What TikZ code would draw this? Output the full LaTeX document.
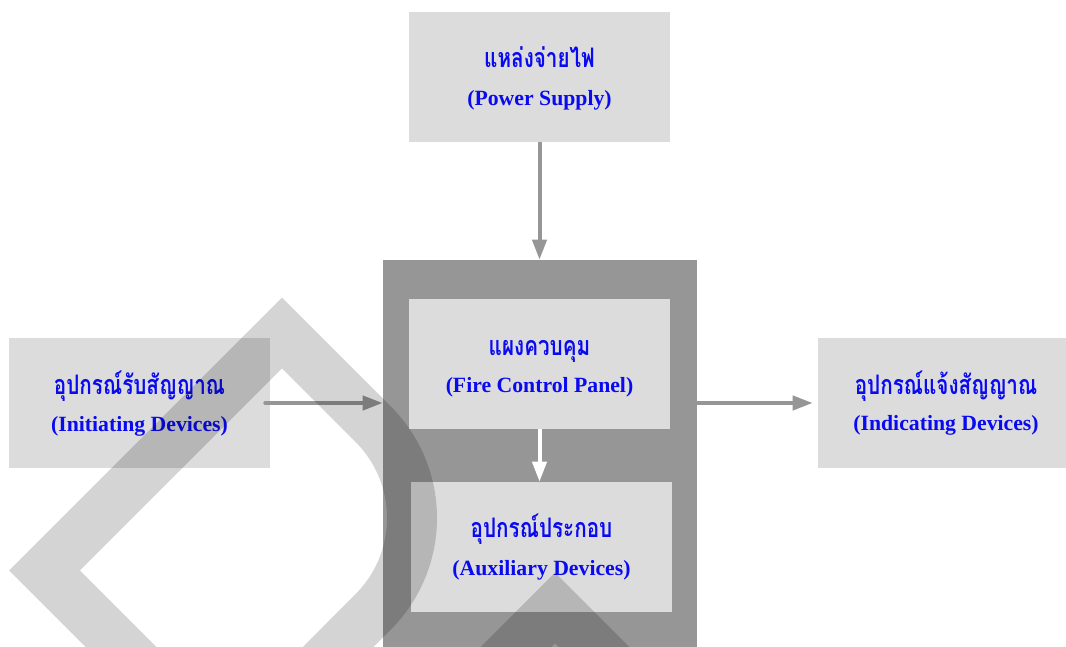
\documentclass[tikz,border=0pt]{standalone}
\usepackage{fontspec}
\setmainfont{Liberation Serif}
\newfontfamily\thaifont[Script=Thai]{Loma}
\usetikzlibrary{arrows.meta}
\definecolor{boxgray}{RGB}{220,220,220}
\definecolor{panelgray}{RGB}{150,150,150}
\definecolor{arrowgray}{RGB}{150,150,150}
\definecolor{labelblue}{RGB}{10,10,240}
% Thai labels are set a little taller than the font's natural shape
\newcommand{\tallthai}[1]{\scalebox{1}[1.3]{#1}}

\begin{document}
\begin{tikzpicture}[x=0.75pt,y=-0.75pt,
  box/.style={fill=boxgray, draw=none, minimum width=195.75pt,
    minimum height=97.5pt, inner sep=0pt},
  panelbox/.style={fill=panelgray, draw=none, minimum width=235.5pt,
    minimum height=300pt, inner sep=0pt},
  thtext/.style={font=\thaifont\bfseries\fontsize{15.5}{18}\selectfont,
    text=labelblue, anchor=base, inner sep=0pt},
  entext/.style={font=\bfseries\fontsize{16.3}{19}\selectfont,
    text=labelblue, anchor=base, inner sep=0pt},
  flow/.style={draw=arrowgray, line width=3pt,
    -{Triangle[width=10.5pt,length=15pt]}},
  whiteflow/.style={flow, draw=white},
  wmstroke/.style={draw=black, draw opacity=0.17, line width=37.5pt,
    line join=miter}
]
\useasboundingbox (0,0) rectangle (1066,646);
\clip (0,0) rectangle (1066,646);

% boxes
\node[panelbox] (ctrl) at (540,460) {};
\node[box] (ps)   at (539.5,77)  {};
\node[box] (fcp)  at (539.5,364) {};
\node[box] (aux)  at (541.5,547) {};
\node[box] (init) at (139.5,403) {};
\node[box] (ind)  at (948.5,403) {};

% labels
\node[thtext] (ps-th)   at (539.5,67)  {\tallthai{แหล่งจ่ายไฟ}};
\node[entext] (ps-en)   at (539.5,105) {(Power Supply)};
\node[thtext] (fcp-th)  at (539.5,355) {\tallthai{แผงควบคุม}};
\node[entext] (fcp-en)  at (539.5,392) {(Fire Control Panel)};
\node[thtext] (aux-th)  at (541.5,537) {\tallthai{อุปกรณ์ประกอบ}};
\node[entext] (aux-en)  at (541.5,575) {(Auxiliary Devices)};
\node[thtext] (init-th) at (139.5,394) {\tallthai{อุปกรณ์รับสัญญาณ}};
\node[entext] (init-en) at (139.5,431) {(Initiating Devices)};
\node[thtext] (ind-th)  at (946,394)   {\tallthai{อุปกรณ์แจ้งสัญญาณ}};
\node[entext] (ind-en)  at (946,430)   {(Indicating Devices)};

% connectors
\draw[flow] (ps.south) -- (ps.south |- ctrl.north);
\draw[flow, line cap=round] ([xshift=-3.75pt]init.east) -- (init.east -| ctrl.west);
\draw[flow, shorten >=3.75pt] (ind.west -| ctrl.east) -- (ind.west);
\draw[whiteflow] (fcp.south) -- (fcp.south |- aux.north);

% background logo strokes
\draw[wmstroke] (282,333) -- (373,424) .. controls (425,476) and (425,560) ..
  (373,612) -- (229.7,755.7) -- (44.5,570.5) -- cycle;
\draw[wmstroke] (430,733) -- (555,608) -- (680,733);
\end{tikzpicture}
\end{document}
